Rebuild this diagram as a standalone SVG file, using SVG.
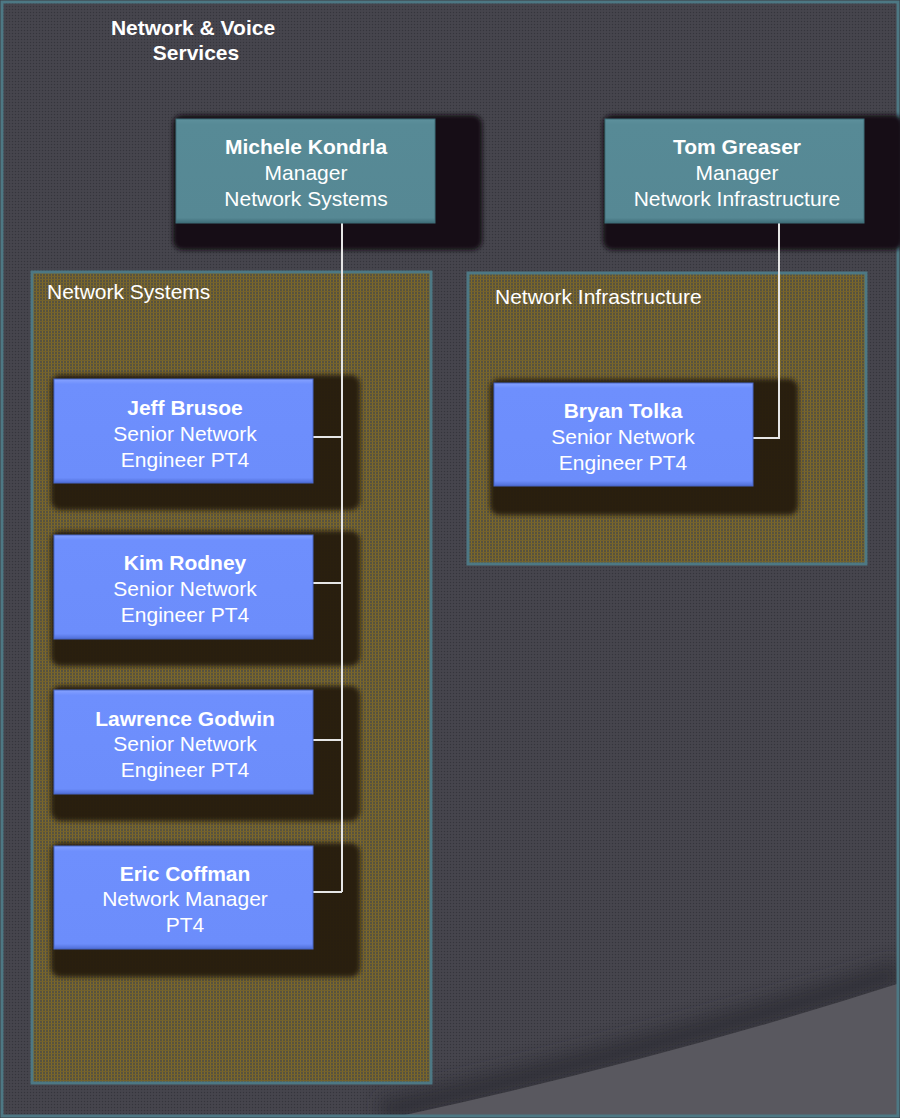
<svg xmlns="http://www.w3.org/2000/svg" width="900" height="1118" viewBox="0 0 900 1118">
<defs>
<pattern id="bgpat" width="3" height="3" patternUnits="userSpaceOnUse">
<rect width="3" height="3" fill="#44434b"/>
<rect width="1" height="1" fill="#35353c"/>
<rect x="1.5" y="1.5" width="1" height="1" fill="#4c4b53"/>
</pattern>
<pattern id="olive" width="3" height="3" patternUnits="userSpaceOnUse">
<rect width="3" height="3" fill="#57523f"/>
<rect width="1" height="3" fill="#806a26"/>
<rect width="3" height="1" fill="#73622e"/>
</pattern>
<filter id="soft" x="-10%" y="-10%" width="120%" height="120%">
<feGaussianBlur stdDeviation="2"/>
</filter>
<filter id="wide" x="-20%" y="-50%" width="140%" height="200%">
<feGaussianBlur stdDeviation="9"/>
</filter>
<linearGradient id="tealg" x1="0" y1="0" x2="0" y2="1">
<stop offset="0" stop-color="#5d909c"/>
<stop offset="0.05" stop-color="#578a96"/>
<stop offset="0.95" stop-color="#568894"/>
<stop offset="1" stop-color="#3f6d78"/>
</linearGradient>
<linearGradient id="blueg" x1="0" y1="0" x2="0" y2="1">
<stop offset="0" stop-color="#86a2ff"/>
<stop offset="0.05" stop-color="#6e8ffd"/>
<stop offset="0.95" stop-color="#6c8dfb"/>
<stop offset="1" stop-color="#4f6dd6"/>
</linearGradient>
<clipPath id="frameClip"><rect x="3" y="3" width="894" height="1112"/></clipPath>
</defs>
<style>
.title{font-family:"Liberation Sans",Arial,sans-serif;font-size:21px;font-weight:bold;fill:#ffffff;text-anchor:middle}
.nm{font-family:"Liberation Sans",Arial,sans-serif;font-size:21px;font-weight:bold;fill:#ffffff;text-anchor:middle}
.tx{font-family:"Liberation Sans",Arial,sans-serif;font-size:21px;fill:#ffffff;text-anchor:middle}
.lbl{font-family:"Liberation Sans",Arial,sans-serif;font-size:21px;fill:#ffffff}
.cont{fill:url(#olive);stroke:#4d7884;stroke-width:3}
.shTop{fill:#121116;filter:url(#soft)}
.shIn{fill:#251e10;opacity:0.95;filter:url(#soft)}
.teal{fill:url(#tealg);stroke:#3e6e79;stroke-width:1}
.blue{fill:url(#blueg);stroke:#4866c8;stroke-width:1}
.conn{fill:none;stroke:#e6e6e6;stroke-width:2}
</style>

<!-- background -->
<rect x="0" y="0" width="900" height="1118" fill="#3a3a40"/>
<rect x="2" y="2" width="896" height="1114" fill="url(#bgpat)"/>
<g clip-path="url(#frameClip)">
<path d="M 380 1112 Q 660 1048 900 972" fill="none" stroke="#2b2b31" stroke-width="26" opacity="0.7" filter="url(#wide)"/>
<path d="M 400 1116 Q 660 1060 897 984 L 897 1116 Z" fill="#59585f"/>
</g>
<rect x="2" y="2" width="896" height="1114" fill="none" stroke="#4d7884" stroke-width="3"/>

<text class="title" x="193" y="35">Network &amp; Voice</text>
<text class="title" x="196" y="60">Services</text>

<!-- containers -->
<g id="container-network-systems">
<rect class="cont" x="32" y="272" width="399" height="811"/>
<text class="lbl" x="47" y="299">Network Systems</text>
</g>
<g id="container-network-infrastructure">
<rect class="cont" x="468" y="273" width="398" height="291"/>
<text class="lbl" x="495" y="304">Network Infrastructure</text>
</g>

<!-- node shadows -->
<rect class="shTop" x="173" y="115" width="309" height="135" rx="9"/>
<rect class="shTop" x="603" y="115" width="300" height="135" rx="9"/>
<rect class="shIn" x="51" y="375" width="309" height="135" rx="9"/>
<rect class="shIn" x="51" y="531" width="309" height="135" rx="9"/>
<rect class="shIn" x="51" y="686" width="309" height="135" rx="9"/>
<rect class="shIn" x="51" y="843" width="309" height="134" rx="9"/>
<rect class="shIn" x="490" y="379" width="308" height="136" rx="9"/>

<!-- connectors -->
<g id="connectors">
<path class="conn" d="M 342 223 L 342 892"/>
<path class="conn" d="M 313 437 L 342 437"/>
<path class="conn" d="M 313 583 L 342 583"/>
<path class="conn" d="M 313 740 L 342 740"/>
<path class="conn" d="M 313 892 L 342 892"/>
<path class="conn" d="M 779 223 L 779 438 L 753 438"/>
</g>

<!-- nodes -->
<g id="michele-kondrla">
<rect class="teal" x="176" y="119" width="259" height="104"/>
<text class="nm" x="306" y="154">Michele Kondrla</text>
<text class="tx" x="306" y="180">Manager</text>
<text class="tx" x="306" y="206">Network Systems</text>
</g>
<g id="tom-greaser">
<rect class="teal" x="605" y="119" width="259" height="104"/>
<text class="nm" x="737" y="154">Tom Greaser</text>
<text class="tx" x="737" y="180">Manager</text>
<text class="tx" x="737" y="206">Network Infrastructure</text>
</g>
<g id="jeff-brusoe">
<rect class="blue" x="54" y="379" width="259" height="104"/>
<text class="nm" x="185" y="415">Jeff Brusoe</text>
<text class="tx" x="185" y="441">Senior Network</text>
<text class="tx" x="185" y="467">Engineer PT4</text>
</g>
<g id="kim-rodney">
<rect class="blue" x="54" y="535" width="259" height="104"/>
<text class="nm" x="185" y="570">Kim Rodney</text>
<text class="tx" x="185" y="596">Senior Network</text>
<text class="tx" x="185" y="622">Engineer PT4</text>
</g>
<g id="lawrence-godwin">
<rect class="blue" x="54" y="690" width="259" height="104"/>
<text class="nm" x="185" y="726">Lawrence Godwin</text>
<text class="tx" x="185" y="751">Senior Network</text>
<text class="tx" x="185" y="777">Engineer PT4</text>
</g>
<g id="eric-coffman">
<rect class="blue" x="54" y="846" width="259" height="103"/>
<text class="nm" x="185" y="881">Eric Coffman</text>
<text class="tx" x="185" y="906">Network Manager</text>
<text class="tx" x="185" y="932">PT4</text>
</g>
<g id="bryan-tolka">
<rect class="blue" x="494" y="383" width="259" height="103"/>
<text class="nm" x="623" y="418">Bryan Tolka</text>
<text class="tx" x="623" y="444">Senior Network</text>
<text class="tx" x="623" y="470">Engineer PT4</text>
</g>
</svg>
